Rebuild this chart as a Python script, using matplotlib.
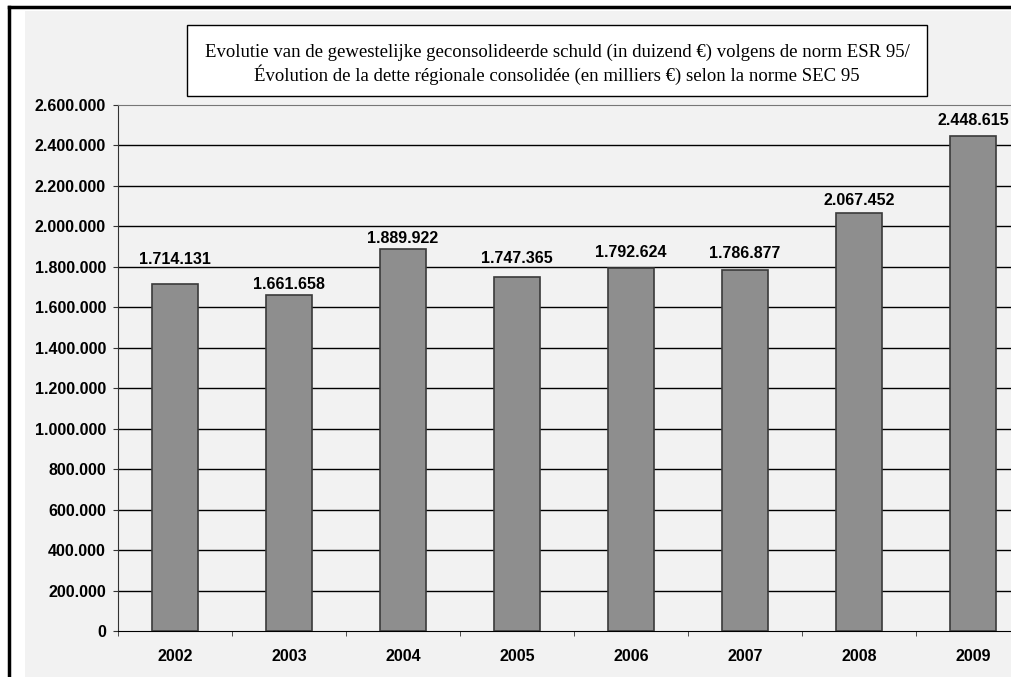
import matplotlib
matplotlib.use("Agg")
import matplotlib.pyplot as plt
from matplotlib.patches import Rectangle
from matplotlib.ticker import FuncFormatter, MultipleLocator

years = ["2002", "2003", "2004", "2005", "2006", "2007", "2008", "2009"]
debt = [1714131, 1661658, 1889922, 1747365, 1792624, 1786877, 2067452, 2448615]

# gap in pixels between bar top and its value label (the original was hand-placed)
label_gap = [20, 6, 6, 14, 11, 12, 8, 11]

title_lines = [
    "Evolutie van de gewestelijke geconsolideerde schuld (in duizend \u20ac) volgens de norm ESR 95/",
    "\u00c9volution de la dette r\u00e9gionale consolid\u00e9e (en milliers \u20ac) selon la norme SEC 95",
]


def dotted(value, pos=None):
    # thousands separator as a dot, like the original
    return f"{int(round(value)):,}".replace(",", ".")


W, H = 1011, 677
fig = plt.figure(figsize=(W / 100, H / 100), dpi=100, facecolor="white")

# grey paper background and the black outer frame
fig.patches.append(Rectangle((25 / W, 0), 1, 1 - 11 / H, transform=fig.transFigure,
                             facecolor="#f2f2f2", edgecolor="none", zorder=-10))
fig.add_artist(plt.Line2D([9 / W, 9 / W], [0, 1 - 7 / H], color="black", lw=2.5,
                          transform=fig.transFigure))
fig.add_artist(plt.Line2D([9 / W, 1], [1 - 7 / H, 1 - 7 / H], color="black", lw=2.5,
                          transform=fig.transFigure))

ax = fig.add_axes([118 / W, 46 / H, 912 / W, 526 / H])
ax.set_facecolor("none")

x = range(len(years))
bars = ax.bar(x, debt, width=0.4, color="#8e8e8e", edgecolor="#3a3a3a", linewidth=1.2, zorder=3)

ax.set_xlim(-0.5, len(years) - 0.5)
ax.set_ylim(0, 2600000)
ax.yaxis.set_major_locator(MultipleLocator(200000))
ax.yaxis.set_major_formatter(FuncFormatter(dotted))

for t in range(200000, 2600000, 200000):
    ax.axhline(t, color="black", lw=1.0, zorder=1)

for rect, val, gap in zip(bars, debt, label_gap):
    ax.annotate(dotted(val), (rect.get_x() + rect.get_width() / 2, val),
                xytext=(0, gap), textcoords="offset pixels", ha="center", va="baseline",
                fontsize=11.5, fontweight="bold", family="Liberation Sans", zorder=4)

ax.set_xticks(list(x))
ax.set_xticklabels(years)
ax.set_xticks([i - 0.5 for i in range(len(years) + 1)], minor=True)
ax.tick_params(axis="x", which="major", length=0, pad=13)
ax.tick_params(axis="x", which="minor", length=3.5, direction="out", color="#333333")
ax.tick_params(axis="y", length=3.6, direction="out", pad=5, color="#333333")
for lab in ax.get_xticklabels() + ax.get_yticklabels():
    lab.set_fontsize(11.5)
    lab.set_fontweight("bold")
    lab.set_family("Liberation Sans")

ax.spines["top"].set_color("#777777")
ax.spines["right"].set_visible(False)
ax.spines["left"].set_color("#333333")
ax.spines["bottom"].set_color("black")

# title box
fig.patches.append(Rectangle((187 / W, 1 - 96 / H), 740 / W, 71 / H, transform=fig.transFigure,
                             facecolor="white", edgecolor="black", lw=1.0, zorder=2))
fig.text(557 / W, 1 - 64 / H, "\n".join(title_lines), ha="center", va="center",
         fontsize=13.5, family="Liberation Serif", linespacing=1.2, zorder=3)

fig.savefig("out.png", dpi=100, facecolor=fig.get_facecolor())
